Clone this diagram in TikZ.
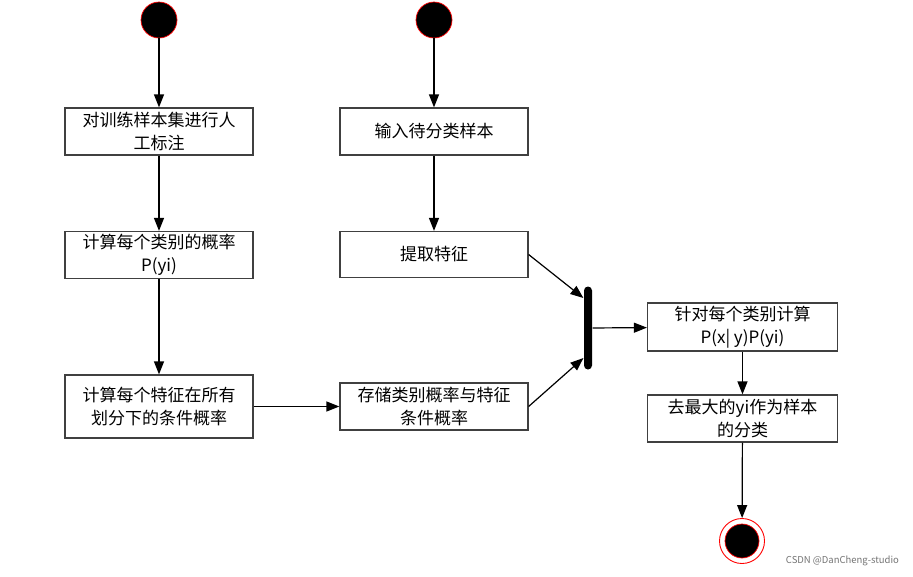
\documentclass[tikz,border=0pt]{standalone}
\usepackage{fontspec}
\newfontfamily\cjk{Noto Sans CJK SC}
\usepackage{tikz}
\usetikzlibrary{arrows.meta,calc,positioning}

\begin{document}
\begin{tikzpicture}[x=1pt,y=-1pt,>={Triangle[length=13pt,width=10pt]},line width=1.2pt,
		stepbox/.style={draw=black!75,fill=white,minimum width=188pt,minimum height=47pt,inner sep=0pt,align=center,font=\cjk\fontsize{17}{23}\selectfont},
		startdot/.style={circle,fill=black,draw=red,line width=0.7pt,minimum size=36pt,inner sep=0pt},
		endring/.style={circle,draw=red,line width=0.9pt,minimum size=45pt,inner sep=0pt}]
		\useasboundingbox (0,0) rectangle (913,576);
		% starts
		\node[startdot] (s_1) at (159,20) {};
		\node[startdot] (s_2) at (434,20) {};
		% left column
		\node[stepbox] (q_a) at (159,131.5) {对训练样本集进行人\\工标注};
		\node[stepbox] (q_b) at (159,255) {计算每个类别的概率\\P(yi)};
		\node[stepbox,minimum height=63pt] (q_c) at (159,406.5) {计算每个特征在所有\\划分下的条件概率};
		% middle column
		\node[stepbox] (q_d) at (434,131.5) {输入待分类样本};
		\node[stepbox,minimum height=46pt] (q_e) at (434,254.5) {提取特征};
		\node[stepbox] (q_f) at (434,406.5) {存储类别概率与特征\\条件概率};
		% join bar
		\node[fill=black,rounded corners=4pt,minimum width=8pt,minimum height=83pt,inner sep=0pt] (join) at (588,328) {};
		% right column
		\node[stepbox,minimum width=190pt,minimum height=48pt] (q_g) at (742.5,327) {针对每个类别计算\\P(x| y)P(yi)};
		\node[stepbox,minimum width=190pt] (q_h) at (742.5,418.5) {去最大的yi作为样本\\的分类};
		\node[endring] (q_end) at (742,541) {};
		\node[startdot,minimum size=34pt] (q_dot) at (q_end) {};
		\node[anchor=west,text=black!55,font=\cjk\fontsize{9.5}{11}\selectfont] (wm) at (782,561) {CSDN @DanCheng-studio};
		\path[->]
			(s_1) edge (q_a)
			(q_a) edge (q_b)
			(q_b) edge (q_c)
			(q_c) edge (q_f)
			(s_2) edge (q_d)
			(q_d) edge (q_e)
			(q_e.east) edge ($(join.west)+(0,-30)$)
			(q_f.east) edge ($(join.west)+(0,30)$)
			(join) edge (q_g)
			(q_g) edge (q_h)
			(q_h) edge (q_end);
	\end{tikzpicture}
\end{document}
